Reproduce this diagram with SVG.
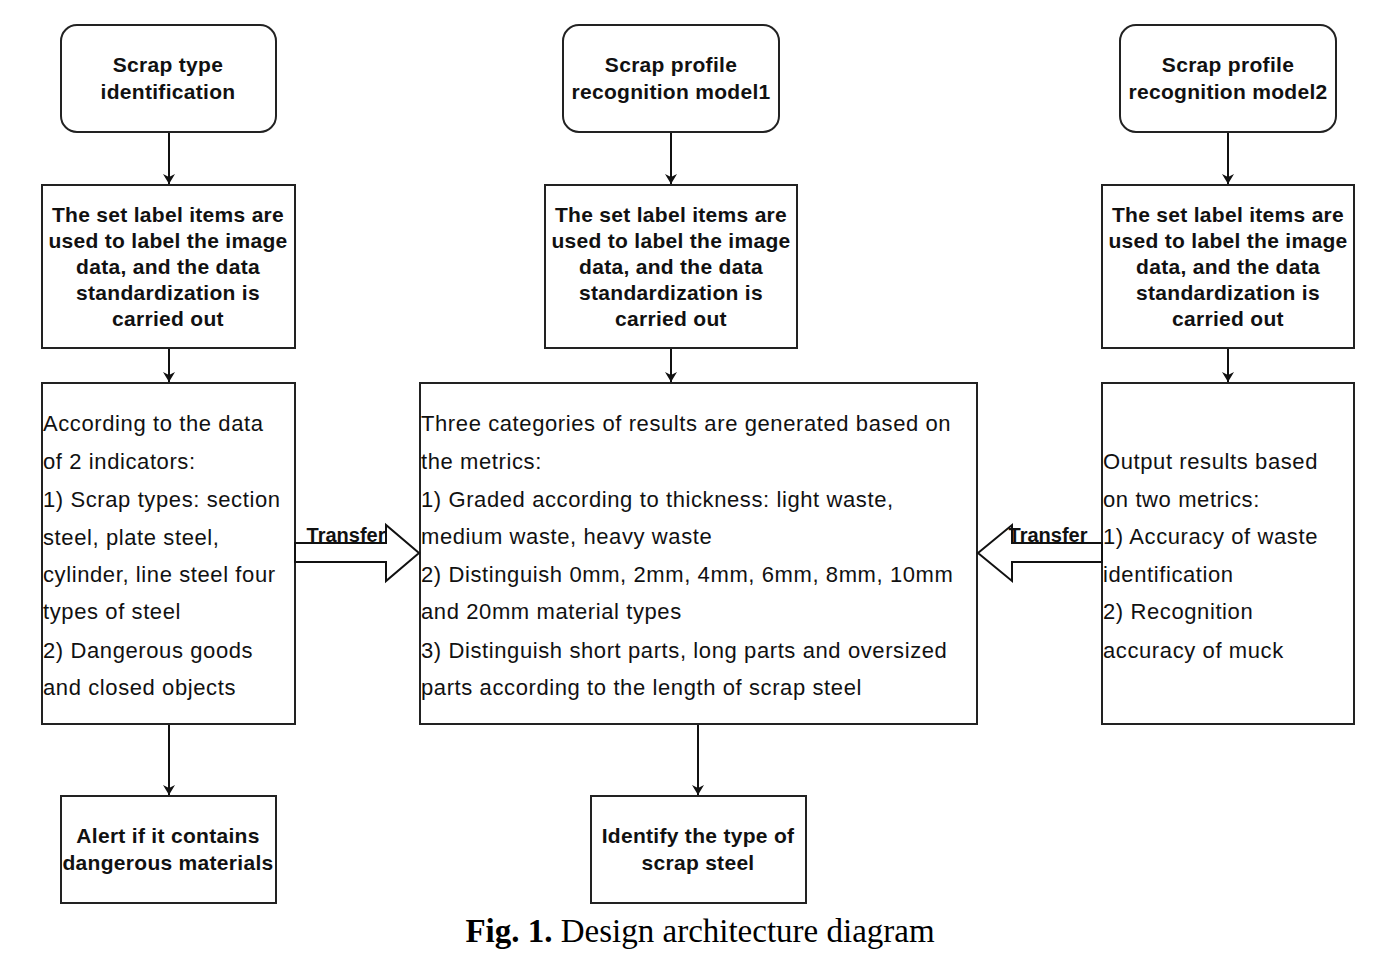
<svg xmlns="http://www.w3.org/2000/svg" width="1400" height="958" viewBox="0 0 1400 958">
<defs>
<marker id="ah" markerWidth="12" markerHeight="12" refX="10" refY="6" orient="auto" markerUnits="userSpaceOnUse">
<path d="M0,0 L10,6 L0,12 L3,6 Z" fill="#111"/>
</marker>
</defs>
<style>
.box{fill:#fff;stroke:#222;stroke-width:2}
.b{font-family:"Liberation Sans",Arial,sans-serif;font-size:21px;letter-spacing:0.3px;font-weight:bold;fill:#111;text-anchor:middle}
.t{font-family:"Liberation Sans",Arial,sans-serif;font-size:20px;font-weight:bold;fill:#111;text-anchor:middle}
.r{font-family:"Liberation Sans",Arial,sans-serif;font-size:22px;letter-spacing:0.6px;fill:#111}
.ln{stroke:#111;stroke-width:2;fill:none;marker-end:url(#ah)}
.cap{font-family:"Liberation Serif","Times New Roman",serif;font-size:33px;fill:#000;text-anchor:middle}
</style>
<rect width="1400" height="958" fill="#fff"/>
<g id="connectors">
<line class="ln" x1="169" y1="133" x2="169" y2="184"/>
<line class="ln" x1="169" y1="349" x2="169" y2="382"/>
<line class="ln" x1="169" y1="725" x2="169" y2="795"/>
<line class="ln" x1="671" y1="133" x2="671" y2="184"/>
<line class="ln" x1="671" y1="349" x2="671" y2="382"/>
<line class="ln" x1="698" y1="725" x2="698" y2="795"/>
<line class="ln" x1="1228" y1="133" x2="1228" y2="184"/>
<line class="ln" x1="1228" y1="349" x2="1228" y2="382"/>
</g>
<g id="n1"><rect class="box" x="61" y="25" width="215" height="107" rx="16"/>
<text class="b" x="168" y="72">Scrap type</text><text class="b" x="168" y="99">identification</text></g>
<g id="n2"><rect class="box" x="563" y="25" width="216" height="107" rx="16"/>
<text class="b" x="671" y="72">Scrap profile</text><text class="b" x="671" y="99">recognition model1</text></g>
<g id="n3"><rect class="box" x="1120" y="25" width="216" height="107" rx="16"/>
<text class="b" x="1228" y="72">Scrap profile</text><text class="b" x="1228" y="99">recognition model2</text></g>
<g id="n4"><rect class="box" x="42" y="185" width="253" height="163"/>
<text class="b" x="168" y="222">The set label items are</text><text class="b" x="168" y="248">used to label the image</text><text class="b" x="168" y="274">data, and the data</text><text class="b" x="168" y="300">standardization is</text><text class="b" x="168" y="326">carried out</text></g>
<g id="n5"><rect class="box" x="545" y="185" width="252" height="163"/>
<text class="b" x="671" y="222">The set label items are</text><text class="b" x="671" y="248">used to label the image</text><text class="b" x="671" y="274">data, and the data</text><text class="b" x="671" y="300">standardization is</text><text class="b" x="671" y="326">carried out</text></g>
<g id="n6"><rect class="box" x="1102" y="185" width="252" height="163"/>
<text class="b" x="1228" y="222">The set label items are</text><text class="b" x="1228" y="248">used to label the image</text><text class="b" x="1228" y="274">data, and the data</text><text class="b" x="1228" y="300">standardization is</text><text class="b" x="1228" y="326">carried out</text></g>
<g id="n7"><rect class="box" x="42" y="383" width="253" height="341"/>
<text class="r" x="43" y="431">According to the data</text>
<text class="r" x="43" y="469">of 2 indicators:</text>
<text class="r" x="43" y="507">1) Scrap types: section</text>
<text class="r" x="43" y="545">steel, plate steel,</text>
<text class="r" x="43" y="582">cylinder, line steel four</text>
<text class="r" x="43" y="619">types of steel</text>
<text class="r" x="43" y="658">2) Dangerous goods</text>
<text class="r" x="43" y="695">and closed objects</text></g>
<g id="n8"><rect class="box" x="420" y="383" width="557" height="341"/>
<text class="r" x="421" y="431">Three categories of results are generated based on</text>
<text class="r" x="421" y="469">the metrics:</text>
<text class="r" x="421" y="507">1) Graded according to thickness: light waste,</text>
<text class="r" x="421" y="544">medium waste, heavy waste</text>
<text class="r" x="421" y="582">2) Distinguish 0mm, 2mm, 4mm, 6mm, 8mm, 10mm</text>
<text class="r" x="421" y="619">and 20mm material types</text>
<text class="r" x="421" y="658">3) Distinguish short parts, long parts and oversized</text>
<text class="r" x="421" y="695">parts according to the length of scrap steel</text></g>
<g id="n9"><rect class="box" x="1102" y="383" width="252" height="341"/>
<text class="r" x="1103" y="469">Output results based</text>
<text class="r" x="1103" y="507">on two metrics:</text>
<text class="r" x="1103" y="544">1) Accuracy of waste</text>
<text class="r" x="1103" y="582">identification</text>
<text class="r" x="1103" y="619">2) Recognition</text>
<text class="r" x="1103" y="658">accuracy of muck</text></g>
<g id="n10"><rect class="box" x="61" y="796" width="215" height="107"/>
<text class="b" x="168" y="843">Alert if it contains</text><text class="b" x="168" y="870">dangerous materials</text></g>
<g id="n11"><rect class="box" x="591" y="796" width="215" height="107"/>
<text class="b" x="698" y="843">Identify the type of</text><text class="b" x="698" y="870">scrap steel</text></g>
<g id="transfer1">
<path d="M295,543 L386,543 L386,525 L419,553 L386,581 L386,562 L295,562 Z" fill="#fff" stroke="#111" stroke-width="2"/>
<text class="t" x="346" y="542">Transfer</text></g>
<g id="transfer2">
<path d="M1102,543 L1012,543 L1012,525 L978,553 L1012,581 L1012,562 L1102,562 Z" fill="#fff" stroke="#111" stroke-width="2"/>
<text class="t" x="1048" y="542">Transfer</text></g>
<text class="cap" x="700" y="942"><tspan font-weight="bold">Fig. 1.</tspan> Design architecture diagram</text>
</svg>
